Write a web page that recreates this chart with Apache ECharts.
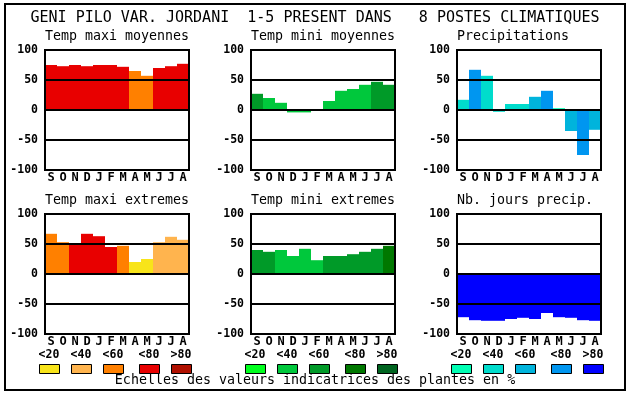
<!DOCTYPE html>
<html><head><meta charset="utf-8">
<script src="https://cdn.jsdelivr.net/npm/echarts@6/dist/echarts.min.js"></script>
<style>html,body{margin:0;padding:0;background:#fff}#c{width:630px;height:394px}</style>
</head><body><div id="c"></div>
<script>
const months = ['S','O','N','D','J','F','M','A','M','J','J','A'];
const yTicks = [-100, -50, 0, 50, 100];
const mainTitle = 'GENI PILO VAR. JORDANI  1-5 PRESENT DANS   8 POSTES CLIMATIQUES';
const footer = 'Echelles des valeurs indicatrices des plantes en %';
const classLabels = ['<20', '<40', '<60', '<80', '>80'];

const warmColors = ['#F8E41A', '#FFB44E', '#FF8000', '#E80000', '#B01000'];
const greenColors = ['#00FF1E', '#00C83C', '#009A28', '#007800', '#006420'];
const blueColors = ['#00FFB4', '#00DCCC', '#00B4DC', '#0096F0', '#0000FF'];

const panelTitles = ['Temp maxi moyennes', 'Temp mini moyennes', 'Precipitations',
                     'Temp maxi extremes', 'Temp mini extremes', 'Nb. jours precip.'];

const tmaxMoy = [75, 73, 75, 73, 75, 75, 72, 65, 57, 70, 73, 77];
const tmaxMoyCls = [3, 3, 3, 3, 3, 3, 3, 2, 2, 3, 3, 3];
const tminMoy = [27, 20, 12, -4, -4, 0, 15, 32, 35, 42, 47, 42];
const tminMoyCls = [2, 1, 1, 1, 1, 1, 1, 1, 1, 1, 2, 2];
const precip = [17, 67, 57, -3, 10, 10, 22, 32, 3, -35, -75, -33];
const precipCls = [1, 3, 1, 1, 1, 1, 2, 3, 0, 2, 3, 2];
const tmaxExt = [67, 53, 50, 67, 63, 45, 47, 20, 25, 53, 62, 57];
const tmaxExtCls = [2, 2, 3, 3, 3, 3, 2, 0, 0, 1, 1, 1];
const tminExt = [40, 37, 40, 30, 42, 23, 30, 30, 33, 37, 42, 47];
const tminExtCls = [2, 2, 1, 1, 1, 1, 2, 2, 2, 2, 2, 3];
const nbJours = [-72, -77, -78, -78, -75, -73, -75, -65, -72, -73, -77, -78];
const nbJoursCls = [4, 4, 4, 4, 4, 4, 4, 4, 4, 4, 4, 4];

const panels = [
  {vals: tmaxMoy, cls: tmaxMoyCls, pal: warmColors},
  {vals: tminMoy, cls: tminMoyCls, pal: greenColors},
  {vals: precip, cls: precipCls, pal: blueColors},
  {vals: tmaxExt, cls: tmaxExtCls, pal: warmColors},
  {vals: tminExt, cls: tminExtCls, pal: greenColors},
  {vals: nbJours, cls: nbJoursCls, pal: blueColors}
];

const colLeft = [45, 251, 457];
const rowTop = [50, 214];
const PW = 144, PH = 120;
const mono = 'DejaVu Sans Mono';

const grids = [], xAxes = [], yAxes = [], series = [], graphics = [];
panels.forEach((p, i) => {
  const c = i % 3, r = Math.floor(i / 3);
  grids.push({left: colLeft[c], top: rowTop[r], width: PW, height: PH,
    show: true, borderColor: '#000', borderWidth: 2, backgroundColor: 'rgba(0,0,0,0)', z: 10});
  xAxes.push({type: 'category', gridIndex: i, data: months, z: 10,
    axisLine: {show: false}, axisTick: {show: false}, splitLine: {show: false},
    axisLabel: {color: '#000', fontFamily: mono, fontWeight: 'bold', fontSize: 12, margin: 2, interval: 0}});
  yAxes.push({type: 'value', gridIndex: i, min: yTicks[0], max: yTicks[yTicks.length - 1],
    interval: yTicks[1] - yTicks[0], z: 10,
    axisLine: {show: false}, axisTick: {show: false},
    splitLine: {show: true, lineStyle: {color: '#000', width: 2}},
    axisLabel: {color: '#000', fontFamily: mono, fontWeight: 'bold', fontSize: 11.5, margin: 7}});
  series.push({type: 'bar', xAxisIndex: i, yAxisIndex: i, barCategoryGap: '0%', barGap: '0%',
    data: p.vals.map((v, k) => ({value: v, itemStyle: {color: p.pal[p.cls[k]]}})),
    silent: true, animation: false});
  graphics.push({type: 'text', left: colLeft[c], top: rowTop[r] - 20,
    style: {text: panelTitles[i], font: '13.3px "DejaVu Sans Mono"', fill: '#000'}});
});

// legends
const legPals = [warmColors, greenColors, blueColors];
const legStart = [39, 245, 451];
const legStep = [32, 32, 36, 32, 32];
legPals.forEach((pal, c) => {
  let x = legStart[c];
  pal.forEach((col, k) => {
    graphics.push({type: 'rect', shape: {x: x + 0.5, y: 364.5, width: 20, height: 9},
      style: {fill: col, stroke: '#000', lineWidth: 1}});
    graphics.push({type: 'text', x: x + 10, y: 355,
      style: {text: classLabels[k], font: 'bold 11.5px "DejaVu Sans Mono"', fill: '#000',
        textAlign: 'center', textVerticalAlign: 'middle'}});
    x += legStep[k];
  });
});

graphics.push({type: 'rect', shape: {x: 5, y: 4, width: 620, height: 386},
  style: {fill: 'none', stroke: '#000', lineWidth: 2}, z: -1});
graphics.push({type: 'text', x: 315, y: 18,
  style: {text: mainTitle, font: '15px "DejaVu Sans Mono"', fill: '#000', textAlign: 'center', textVerticalAlign: 'middle'}});
graphics.push({type: 'text', x: 315, y: 381,
  style: {text: footer, font: '13.3px "DejaVu Sans Mono"', fill: '#000', textAlign: 'center', textVerticalAlign: 'middle'}});

const chart = echarts.init(document.getElementById('c'), null, {renderer: 'canvas'});
chart.setOption({
  animation: false,
  backgroundColor: '#fff',
  grid: grids, xAxis: xAxes, yAxis: yAxes, series: series,
  graphic: graphics
});
</script></body></html>
